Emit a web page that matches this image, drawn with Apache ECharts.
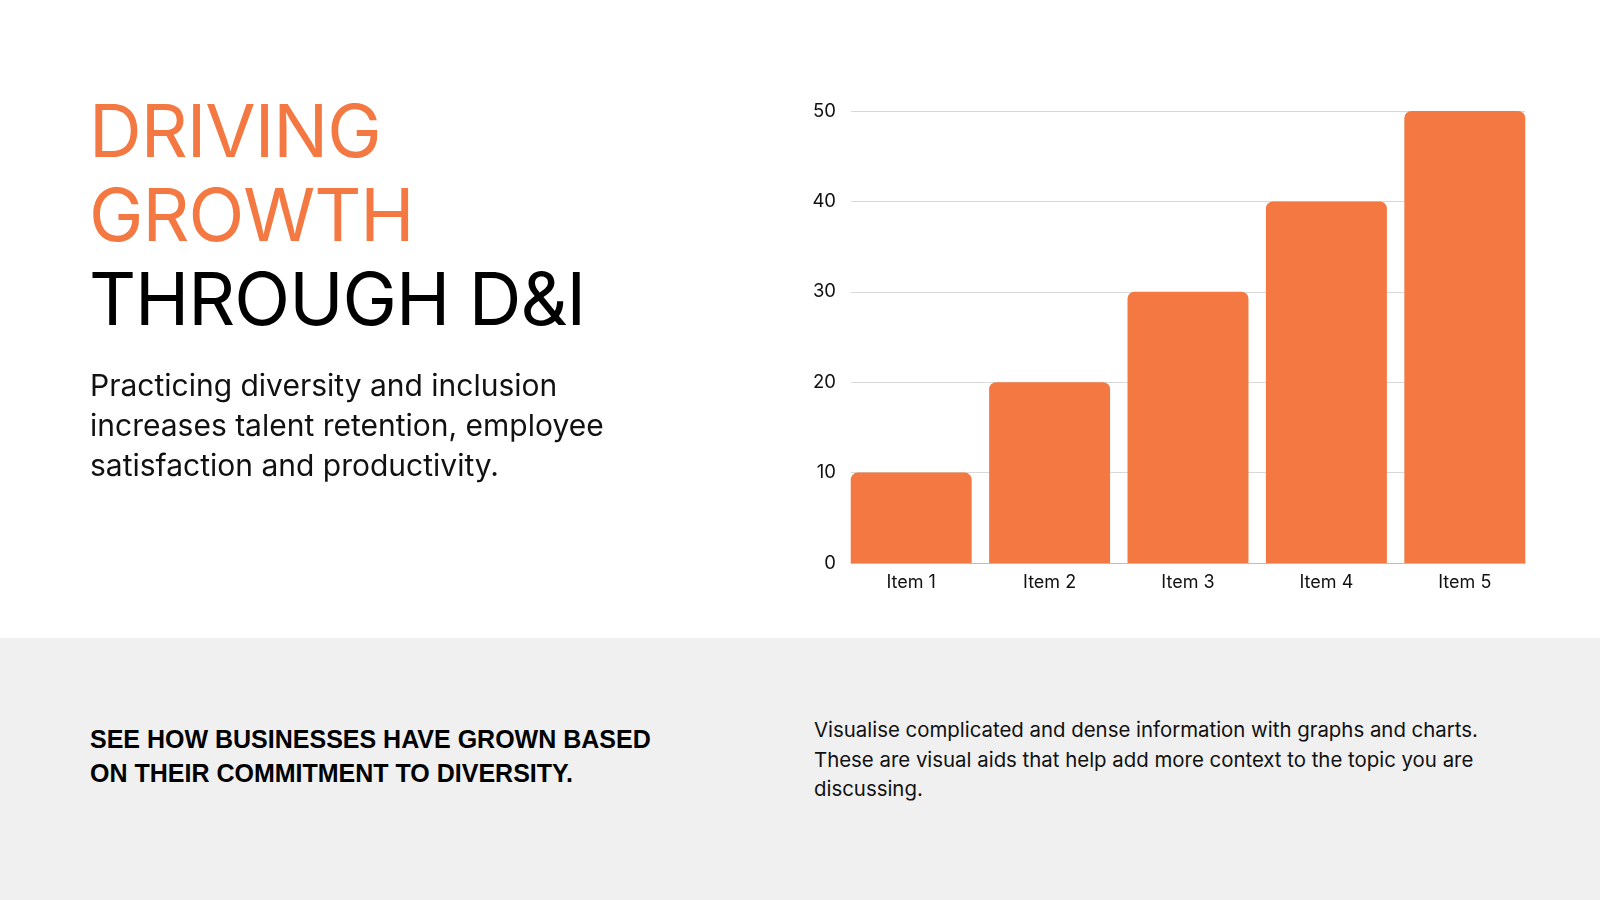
<!DOCTYPE html>
<html>
<head>
<meta charset="utf-8">
<title>Driving Growth Through D&amp;I</title>
<script src="https://cdn.jsdelivr.net/npm/echarts@6/dist/echarts.min.js"></script>
<style>
  html, body { margin: 0; padding: 0; width: 1600px; height: 900px; overflow: hidden; background: #fff; font-family: Inter, "Noto Sans", sans-serif; }
  #band { position: absolute; left: 0; top: 638px; width: 1600px; height: 262px; background: #f0f0f0; }
  #title { position: absolute; left: 89px; top: 89px; font-size: 73px; line-height: 84px; color: #000; white-space: nowrap; letter-spacing: -1px; }
  #title .orange { color: #f47842; }
  #lead { position: absolute; left: 90px; top: 366px; width: 560px; font-size: 30px; line-height: 39.8px; color: #111; }
  #cta { position: absolute; left: 90px; top: 722px; font-family: "Liberation Sans", Arial, sans-serif; font-weight: bold; font-size: 25px; line-height: 34px; color: #000; white-space: nowrap; }
  #note { position: absolute; left: 814px; top: 715px; width: 720px; font-size: 20.4px; line-height: 29.7px; color: #111; }
  #chart { position: absolute; left: 0; top: 0; width: 1600px; height: 638px; }
</style>
</head>
<body>
<div id="band"></div>
<div id="chart"></div>
<div id="title"><span class="orange">DRIVING</span><br><span class="orange">GROWTH</span><br>THROUGH D&amp;I</div>
<div id="lead">Practicing diversity and inclusion<br>increases talent retention, employee<br>satisfaction and productivity.</div>
<div id="cta">SEE HOW BUSINESSES HAVE GROWN BASED<br>ON THEIR COMMITMENT TO DIVERSITY.</div>
<div id="note">Visualise complicated and dense information with graphs and charts.<br>These are visual aids that help add more context to the topic you are<br>discussing.</div>
<script>
var items = ['Item 1', 'Item 2', 'Item 3', 'Item 4', 'Item 5'];
var values = [10, 20, 30, 40, 50];

var myChart = echarts.init(document.getElementById('chart'));

// grid 0 holds the bars, grid 1 only draws the gridlines and y labels
// so the lines stop at the outer bar edges like the reference
var option = {
    animation: false,
    grid: [
        { left: 842, right: 66, top: 111, bottom: 75 },
        { left: 851, right: 75, top: 111, bottom: 75 }
    ],
    xAxis: [{
        type: 'category',
        gridIndex: 0,
        data: items,
        axisTick: { show: false },
        axisLine: { show: false },
        axisLabel: { color: '#111', fontSize: 18, margin: 11, fontFamily: 'Inter' }
    }, {
        type: 'value',
        gridIndex: 1,
        min: 0,
        max: 1,
        axisTick: { show: false },
        axisLabel: { show: false },
        splitLine: { show: false },
        axisLine: { show: true, onZero: false, lineStyle: { color: '#bdbdbd', width: 1 } }
    }],
    yAxis: [{
        type: 'value',
        gridIndex: 0,
        min: 0,
        max: 50,
        interval: 10,
        show: false
    }, {
        type: 'value',
        gridIndex: 1,
        min: 0,
        max: 50,
        interval: 10,
        axisLine: { show: false },
        axisTick: { show: false },
        splitLine: { lineStyle: { color: '#d9d9d9', width: 1 } },
        axisLabel: { color: '#111', fontSize: 18.5, margin: 15, fontFamily: 'Inter' }
    }],
    series: [{
        type: 'bar',
        xAxisIndex: 0,
        yAxisIndex: 0,
        data: values,
        barCategoryGap: '12.6%',
        z: 3,
        itemStyle: { color: '#f47842', borderRadius: [7, 7, 0, 0] }
    }]
};

myChart.setOption(option);
</script>
</body>
</html>
